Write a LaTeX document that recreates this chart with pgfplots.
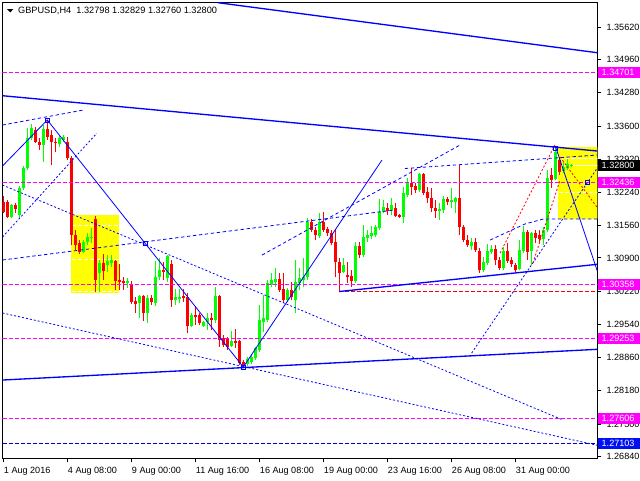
\documentclass[border=0pt]{standalone}
\usepackage{fontspec}
\setmainfont{Liberation Sans}
\usepackage{pgfplots}
\usepackage{pgfplotstable}
\pgfplotsset{compat=1.18}
\definecolor{mtgreen}{RGB}{0,255,0}
\definecolor{mtred}{RGB}{255,0,0}
\definecolor{mtblue}{RGB}{0,0,255}
\definecolor{mtmag}{RGB}{255,0,255}
\definecolor{mtyellow}{RGB}{255,255,0}
\definecolor{dkblue}{RGB}{0,0,200}
\definecolor{lblblue}{RGB}{0,16,240}

\pgfplotstableread{
i o h l c
0 1.32044 1.32167 1.31819 1.31839
1 1.32044 1.32085 1.31716 1.31737
2 1.31737 1.32003 1.31716 1.31982
3 1.31982 1.32023 1.31819 1.31901
4 1.31778 1.32371 1.31696 1.32330
5 1.32330 1.32781 1.32290 1.32740
6 1.32740 1.33559 1.32699 1.33354
7 1.33354 1.33641 1.33313 1.33559
8 1.33518 1.33579 1.33252 1.33272
9 1.33272 1.33354 1.33109 1.33211
10 1.33211 1.33620 1.32863 1.33538
11 1.33538 1.33723 1.33313 1.33375
12 1.33415 1.33518 1.32801 1.33272
13 1.33272 1.33354 1.33068 1.33252
14 1.33231 1.33395 1.33170 1.33354
15 1.33313 1.33415 1.33272 1.33375
16 1.33272 1.33375 1.32904 1.32945
17 1.32945 1.32986 1.31164 1.31368
18 1.31368 1.31471 1.31062 1.31164
19 1.31205 1.31266 1.30980 1.31021
20 1.31021 1.31266 1.31000 1.31225
21 1.31225 1.31409 1.31164 1.31327
22 1.31307 1.31512 1.31205 1.31327
23 1.31696 1.31757 1.30201 1.30447
24 1.30590 1.30857 1.30201 1.30795
25 1.30795 1.30980 1.30447 1.30631
26 1.30754 1.30959 1.30611 1.30836
27 1.30795 1.30959 1.30713 1.30857
28 1.30836 1.30857 1.30242 1.30427
29 1.30447 1.30775 1.30242 1.30406
30 1.30427 1.30509 1.30242 1.30386
31 1.30386 1.30488 1.30283 1.30427
32 1.30365 1.30427 1.29956 1.29997
33 1.30017 1.30099 1.29772 1.29956
34 1.29976 1.30140 1.29669 1.30120
35 1.30120 1.30140 1.29608 1.29772
36 1.29772 1.30140 1.29567 1.30079
37 1.30079 1.30140 1.29935 1.29997
38 1.29976 1.30836 1.29915 1.30509
39 1.30509 1.30898 1.30447 1.30652
40 1.30652 1.30816 1.30447 1.30611
41 1.30488 1.30959 1.30406 1.30939
42 1.30775 1.30857 1.29894 1.30038
43 1.30038 1.30263 1.29935 1.30099
44 1.30058 1.30263 1.29976 1.30099
45 1.30120 1.30263 1.29997 1.30079
46 1.30099 1.30181 1.29362 1.29506
47 1.29506 1.29772 1.29485 1.29731
48 1.29731 1.29894 1.29526 1.29690
49 1.29731 1.29772 1.29526 1.29567
50 1.29506 1.29608 1.29485 1.29588
51 1.29588 1.29772 1.29424 1.29669
52 1.29669 1.29772 1.29424 1.29629
53 1.29629 1.30304 1.29567 1.30120
54 1.30120 1.30140 1.29076 1.29219
55 1.29260 1.29321 1.29076 1.29117
56 1.29240 1.29281 1.29015 1.29076
57 1.29096 1.29403 1.29076 1.29199
58 1.29199 1.29444 1.29055 1.29158
59 1.29199 1.29219 1.28707 1.28748
60 1.28769 1.28810 1.28666 1.28707
61 1.28728 1.28871 1.28687 1.28830
62 1.28769 1.28933 1.28728 1.28871
63 1.28851 1.29076 1.28810 1.29055
64 1.29015 1.29935 1.28974 1.29629
65 1.29588 1.30140 1.29383 1.29669
66 1.29629 1.30447 1.29588 1.30386
67 1.30345 1.30590 1.30304 1.30447
68 1.30406 1.30693 1.30304 1.30468
69 1.30468 1.30590 1.30201 1.30242
70 1.30263 1.30590 1.29976 1.30038
71 1.30038 1.30283 1.29997 1.30242
72 1.30242 1.30406 1.30038 1.30099
73 1.30038 1.30857 1.29772 1.30406
74 1.30386 1.30693 1.30242 1.30488
75 1.30447 1.30898 1.30304 1.30509
76 1.30509 1.31716 1.30447 1.31635
77 1.31635 1.31696 1.31430 1.31471
78 1.31471 1.31532 1.31266 1.31368
79 1.31348 1.31819 1.31307 1.31635
80 1.31635 1.31839 1.31430 1.31471
81 1.31491 1.31532 1.31348 1.31409
82 1.31409 1.31471 1.31164 1.31205
83 1.31225 1.31471 1.30509 1.30816
84 1.30816 1.30898 1.30201 1.30590
85 1.30611 1.30898 1.30590 1.30754
86 1.30549 1.30816 1.30386 1.30509
87 1.30529 1.30652 1.30304 1.30427
88 1.30427 1.31225 1.30386 1.31143
89 1.31143 1.31225 1.30898 1.30959
90 1.30959 1.31573 1.30918 1.31327
91 1.31307 1.31471 1.31225 1.31368
92 1.31348 1.31553 1.31286 1.31409
93 1.31368 1.31573 1.31327 1.31532
94 1.31512 1.32105 1.31471 1.31839
95 1.31839 1.32085 1.31819 1.31942
96 1.31921 1.32023 1.31778 1.31860
97 1.31880 1.32126 1.31778 1.31982
98 1.31921 1.32023 1.31737 1.31757
99 1.31778 1.31798 1.31716 1.31737
100 1.31737 1.32351 1.31614 1.32228
101 1.32187 1.32535 1.32146 1.32433
102 1.32433 1.32740 1.32187 1.32351
103 1.32371 1.32433 1.32228 1.32290
104 1.32290 1.32638 1.32249 1.32617
105 1.32617 1.32638 1.32187 1.32228
106 1.32249 1.32351 1.32023 1.32126
107 1.32126 1.32330 1.31839 1.31921
108 1.31921 1.32085 1.31716 1.31860
109 1.31860 1.32023 1.31676 1.31901
110 1.31880 1.32167 1.31819 1.32105
111 1.32105 1.32146 1.31982 1.32044
112 1.32044 1.32330 1.31921 1.32085
113 1.32044 1.32146 1.31819 1.32126
114 1.32126 1.32801 1.31368 1.31532
115 1.31532 1.31573 1.31225 1.31266
116 1.31266 1.31368 1.31123 1.31164
117 1.31143 1.31307 1.31062 1.31225
118 1.31225 1.31307 1.31021 1.31062
119 1.31041 1.31102 1.30590 1.30652
120 1.30652 1.30918 1.30611 1.30816
121 1.30795 1.31184 1.30754 1.31041
122 1.31021 1.31164 1.30980 1.31082
123 1.31082 1.31164 1.30754 1.30857
124 1.30857 1.30918 1.30652 1.30693
125 1.30693 1.31123 1.30652 1.31041
126 1.31041 1.31205 1.30795 1.30836
127 1.30857 1.30918 1.30713 1.30775
128 1.30754 1.30795 1.30611 1.30652
129 1.30672 1.31266 1.30652 1.31062
130 1.31041 1.31553 1.31000 1.31430
131 1.31430 1.31471 1.30857 1.31021
132 1.31041 1.31430 1.30754 1.31409
133 1.31409 1.31471 1.31205 1.31307
134 1.31368 1.31471 1.31205 1.31286
135 1.31286 1.31532 1.31164 1.31471
136 1.31471 1.32699 1.31430 1.32535
137 1.32597 1.32740 1.32330 1.32494
138 1.32515 1.33149 1.32494 1.33068
139 1.32904 1.32965 1.32597 1.32658
140 1.32679 1.32863 1.32638 1.32760
141 1.32740 1.32924 1.32699 1.32822
142 1.32798 1.32829 1.32760 1.32800
}\candles

\begin{document}
\begin{tikzpicture}
\useasboundingbox (0,0) rectangle (480pt,-360pt);
\begin{axis}[
  at={(1.875pt,-1.875pt)}, anchor=north west, scale only axis,
  width=446.1pt, height=341.85pt,
  xmin=-0.2, xmax=148.5, ymin=1.26798, ymax=1.36128,
  clip mode=individual,
  axis line style={black, line width=0.75pt},
  xtick={0,16,32,48,64,80,96,112,128},
  xticklabels={1 Aug 2016,4 Aug 08:00,9 Aug 00:00,11 Aug 16:00,16 Aug 08:00,19 Aug 00:00,23 Aug 16:00,26 Aug 08:00,31 Aug 00:00},
  ytick={1.35620,1.34960,1.34280,1.33600,1.32920,1.32240,1.31560,1.30900,1.30220,1.29540,1.28860,1.28180,1.27500,1.26840},
  yticklabels={1.35620,1.34960,1.34280,1.33600,1.32920,1.32240,1.31560,1.30900,1.30220,1.29540,1.28860,1.28180,1.27500,1.26840},
  xtick pos=left, ytick pos=right, yticklabel pos=right,
  tick align=outside, major tick length=3pt,
  tick style={black, line width=0.75pt},
  xticklabel style={anchor=north west, inner sep=0pt, xshift=0.3pt, yshift=-3.8pt, font=\fontsize{6.8}{8}\selectfont},
  yticklabel style={anchor=west, inner sep=0pt, xshift=3.8pt, font=\fontsize{6.8}{8}\selectfont},
]
% yellow rectangles
\addplot[fill=mtyellow, draw=none] coordinates {(16.9,1.31778) (28.9,1.31778) (28.9,1.30175) (16.9,1.30175)} -- cycle;
\addplot[fill=mtyellow, draw=none] coordinates {(138.7,1.33170) (150,1.33170) (150,1.31696) (138.7,1.31696)} -- cycle;
% white dashes inside rectangles
\addplot[white, line width=0.75pt, dash pattern=on 3pt off 1.5pt] coordinates {(17.2,1.31559) (28.6,1.31559)};
\addplot[white, line width=0.75pt, dash pattern=on 3pt off 1.5pt] coordinates {(17.2,1.30877) (28.6,1.30877)};
\addplot[white, line width=0.75pt, dash pattern=on 3pt off 1.5pt] coordinates {(17.2,1.30222) (28.6,1.30222)};
\addplot[white, line width=0.75pt, dash pattern=on 3pt off 1.5pt] coordinates {(138.9,1.32945) (150,1.32945)};
\addplot[white, line width=0.75pt, dash pattern=on 3pt off 1.5pt] coordinates {(138.9,1.32238) (150,1.32238)};
\addplot[white, line width=0.75pt] coordinates {(138.9,1.32800) (150,1.32800)};
% candles: wicks
\addplot[draw=none, mark=none, forget plot, error bars/.cd, y dir=plus, y explicit, error mark=none,
  error bar style={draw=mtgreen, line width=0.75pt}]
  table[x=i, y=l, y error expr={\thisrow{h}-\thisrow{l}}, restrict expr to domain={\thisrow{c}-\thisrow{o}}{0:1}] {\candles};
\addplot[draw=none, mark=none, forget plot, error bars/.cd, y dir=plus, y explicit, error mark=none,
  error bar style={draw=mtred, line width=0.75pt}]
  table[x=i, y=l, y error expr={\thisrow{h}-\thisrow{l}}, restrict expr to domain={\thisrow{c}-\thisrow{o}}{-1:0}] {\candles};
% candles: bodies
\addplot[draw=none, mark=none, forget plot, error bars/.cd, y dir=plus, y explicit, error mark=none,
  error bar style={draw=mtgreen, line width=2.25pt}]
  table[x=i, y=o, y error expr={\thisrow{c}-\thisrow{o}}, restrict expr to domain={\thisrow{c}-\thisrow{o}}{0:1}] {\candles};
\addplot[draw=none, mark=none, forget plot, error bars/.cd, y dir=plus, y explicit, error mark=none,
  error bar style={draw=mtred, line width=2.25pt}]
  table[x=i, y=c, y error expr={\thisrow{o}-\thisrow{c}}, restrict expr to domain={\thisrow{c}-\thisrow{o}}{-1:0}] {\candles};
% horizontal levels
\addplot[mtmag, line width=0.75pt, dash pattern=on 3pt off 1.5pt] coordinates {(-0.2,1.34701) (148.5,1.34701)};
\addplot[mtmag, line width=0.75pt, dash pattern=on 3pt off 1.5pt] coordinates {(-0.2,1.32436) (148.5,1.32436)};
\addplot[mtmag, line width=0.75pt, dash pattern=on 3pt off 1.5pt] coordinates {(-0.2,1.30358) (148.5,1.30358)};
\addplot[mtmag, line width=0.75pt, dash pattern=on 3pt off 1.5pt] coordinates {(-0.2,1.29253) (148.5,1.29253)};
\addplot[mtmag, line width=0.75pt, dash pattern=on 3pt off 1.5pt] coordinates {(-0.2,1.27606) (148.5,1.27606)};
\addplot[dkblue, line width=0.75pt, dash pattern=on 3pt off 1.5pt] coordinates {(-0.2,1.27103) (148.5,1.27103)};
\addplot[mtred, line width=0.75pt, dash pattern=on 3pt off 1.5pt] coordinates {(84,1.30222) (148.5,1.30222)};
% solid channel lines
\addplot[mtblue, line width=1pt] coordinates {(53.675,1.36124) (148.5,1.35100)};
\addplot[mtblue, line width=1pt] coordinates {(-0.2,1.34220) (148.5,1.33088)};
\addplot[mtblue, line width=1pt] coordinates {(-0.2,1.28400) (148.5,1.29029)};
\addplot[mtblue, line width=1pt] coordinates {(84,1.30212) (148.5,1.30769)};
% zigzag
\addplot[mtblue, line width=0.6pt] coordinates {(-0.2,1.32781) (11,1.33723) (60,1.28666) (94.675,1.32904)};
\addplot[mtblue, line width=0.6pt] coordinates {(138.175,1.33149) (148.5,1.30632)};
% dashed trend lines
\addplot[mtblue, line width=0.6pt, dash pattern=on 2.5pt off 2pt] coordinates {(-0.2,1.33620) (20,1.33927)};
\addplot[mtblue, line width=0.6pt, dash pattern=on 1.5pt off 1.5pt] coordinates {(-0.2,1.31327) (23.35,1.33450)};
\addplot[mtblue, line width=0.6pt, dash pattern=on 1.5pt off 1.5pt] coordinates {(-0.2,1.32392) (139.9,1.27582)};
\addplot[mtblue, line width=0.6pt, dash pattern=on 1.5pt off 1.5pt] coordinates {(-0.2,1.29772) (148.5,1.27064)};
\addplot[mtblue, line width=0.6pt, dash pattern=on 2.5pt off 2pt] coordinates {(-0.2,1.30857) (97.7,1.31880)};
\addplot[mtblue, line width=0.6pt, dash pattern=on 2.5pt off 2pt] coordinates {(64.7,1.30959) (114.2,1.33211)};
\addplot[mtblue, line width=0.6pt, dash pattern=on 2.5pt off 2pt] coordinates {(100.4,1.32730) (148.5,1.33006)};
\addplot[mtblue, line width=0.6pt, dash pattern=on 1.5pt off 1.5pt] coordinates {(117.1,1.28953) (148.5,1.32740)};
\addplot[mtblue, line width=0.6pt, dash pattern=on 2.5pt off 2pt] coordinates {(121.7,1.31266) (130.4,1.31594) (135,1.31696) (148.5,1.31696)};
% red dashed fan near the end
\addplot[mtred, line width=0.6pt, dash pattern=on 1.5pt off 1.5pt] coordinates {(124.2,1.31000) (137.9,1.33211)};
\addplot[mtred, line width=0.6pt, dash pattern=on 1.5pt off 1.5pt] coordinates {(132.4,1.30795) (139.2,1.32494)};
\addplot[mtred, line width=0.6pt, dash pattern=on 1.5pt off 1.5pt] coordinates {(139.2,1.32965) (148.4,1.31942)};
% pivot squares
\addplot[mtblue, only marks, mark=square, mark size=1.5pt, line width=0.6pt] coordinates {(11,1.33723) (35.425,1.31205) (60,1.28666) (138,1.33149) (146.1,1.32440)};

% right side price labels
\node[anchor=west, fill=mtmag, text=white, inner xsep=3.1pt, inner ysep=0pt, minimum height=8.25pt, text width=27pt, font=\fontsize{6.8}{8}\selectfont] at (axis cs:148.5,1.34701) {1.34701};
\node[anchor=west, fill=black, text=white, inner xsep=3.1pt, inner ysep=0pt, minimum height=8.25pt, text width=27pt, font=\fontsize{6.8}{8}\selectfont] at (axis cs:148.5,1.32800) {1.32800};
\node[anchor=west, fill=mtmag, text=white, inner xsep=3.1pt, inner ysep=0pt, minimum height=8.25pt, text width=27pt, font=\fontsize{6.8}{8}\selectfont] at (axis cs:148.5,1.32436) {1.32436};
\node[anchor=west, fill=mtmag, text=white, inner xsep=3.1pt, inner ysep=0pt, minimum height=8.25pt, text width=27pt, font=\fontsize{6.8}{8}\selectfont] at (axis cs:148.5,1.30358) {1.30358};
\node[anchor=west, fill=mtmag, text=white, inner xsep=3.1pt, inner ysep=0pt, minimum height=8.25pt, text width=27pt, font=\fontsize{6.8}{8}\selectfont] at (axis cs:148.5,1.29253) {1.29253};
\node[anchor=west, fill=mtmag, text=white, inner xsep=3.1pt, inner ysep=0pt, minimum height=8.25pt, text width=27pt, font=\fontsize{6.8}{8}\selectfont] at (axis cs:148.5,1.27606) {1.27606};
\node[anchor=west, fill=lblblue, text=white, inner xsep=3.1pt, inner ysep=0pt, minimum height=8.25pt, text width=27pt, font=\fontsize{6.8}{8}\selectfont] at (axis cs:148.5,1.27103) {1.27103};
\end{axis}
% title
\fill[black] (5.4pt,-6.9pt) -- (9.9pt,-6.9pt) -- (7.65pt,-9.3pt) -- cycle;
\node[anchor=west, inner sep=0pt, font=\fontsize{6.9}{8}\selectfont] at (13.4pt,-8pt) {GBPUSD,H4\ \ 1.32798 1.32829 1.32760 1.32800};
\end{tikzpicture}
\end{document}
